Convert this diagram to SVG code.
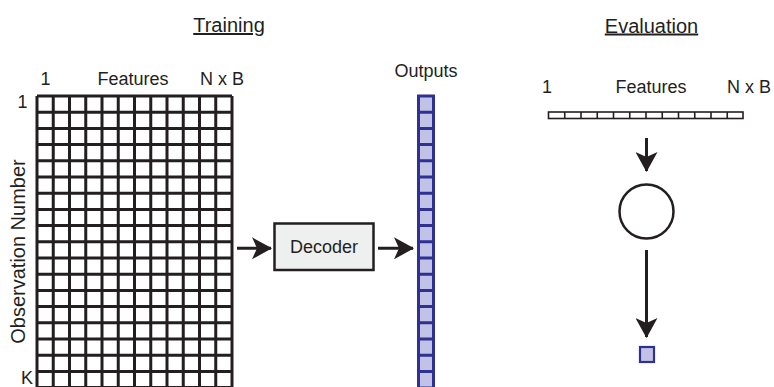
<svg xmlns="http://www.w3.org/2000/svg" width="774" height="387" viewBox="0 0 774 387">
<defs>
<style>
text{font-family:"Liberation Sans",Arial,sans-serif;fill:#231f20}
.lbl{font-size:18px}
.ttl{font-size:20px;text-decoration:underline}
.grid{stroke:#231f20;stroke-width:3;fill:none}
.out{stroke:#2e3192;stroke-width:3;fill:#c2c2e6}
.conn{stroke:#231f20;stroke-width:3;fill:none}
</style>
<marker id="ah" markerWidth="20" markerHeight="22" refX="19" refY="11" orient="auto" markerUnits="userSpaceOnUse">
<path d="M0,0 L20,11 L0,22 L5,11 Z" fill="#231f20"/>
</marker>
</defs>
<rect width="774" height="387" fill="#fff"/>
<text class="ttl" x="229" y="32" text-anchor="middle">Training</text>
<text class="ttl" x="651.5" y="32.5" text-anchor="middle">Evaluation</text>

<g id="training-matrix">
<text class="lbl" x="45.5" y="85" text-anchor="middle">1</text>
<text class="lbl" x="133" y="85" text-anchor="middle">Features</text>
<text class="lbl" x="222" y="85" text-anchor="middle">N x B</text>
<text class="lbl" x="22.5" y="108" text-anchor="middle">1</text>
<text class="lbl" x="27" y="384" text-anchor="middle">K</text>
<text transform="translate(25,251.5) rotate(-90)" text-anchor="middle" style="font-size:20px">Observation Number</text>
<rect x="37" y="96" width="195" height="292" fill="#fff"/>
<path class="grid" d="M37,96V388M53.25,96V388M69.5,96V388M85.75,96V388M102,96V388M118.25,96V388M134.5,96V388M150.75,96V388M167,96V388M183.25,96V388M199.5,96V388M215.75,96V388M232,96V388
M37,96H232M37,112.2H232M37,128.4H232M37,144.6H232M37,160.8H232M37,177H232M37,193.2H232M37,209.4H232M37,225.6H232M37,241.8H232M37,258H232M37,274.2H232M37,290.4H232M37,306.6H232M37,322.8H232M37,339H232M37,355.2H232M37,371.4H232M37,387.6H232"/>
</g>

<g id="decoder">
<rect x="274.5" y="223.5" width="99" height="46.5" fill="#eef0ef" stroke="#231f20" stroke-width="2.5"/>
<text x="324" y="253" text-anchor="middle" style="font-size:18px">Decoder</text>
</g>

<g id="outputs">
<text class="lbl" x="426" y="77" text-anchor="middle">Outputs</text>
<rect class="out" x="418.5" y="96" width="15" height="292"/>
<path class="out" fill="none" d="M418.5,112.2H433.5M418.5,128.4H433.5M418.5,144.6H433.5M418.5,160.8H433.5M418.5,177H433.5M418.5,193.2H433.5M418.5,209.4H433.5M418.5,225.6H433.5M418.5,241.8H433.5M418.5,258H433.5M418.5,274.2H433.5M418.5,290.4H433.5M418.5,306.6H433.5M418.5,322.8H433.5M418.5,339H433.5M418.5,355.2H433.5M418.5,371.4H433.5"/>
</g>

<g id="eval-features">
<text class="lbl" x="547" y="93" text-anchor="middle">1</text>
<text class="lbl" x="651" y="93" text-anchor="middle">Features</text>
<text class="lbl" x="749" y="93" text-anchor="middle">N x B</text>
<rect x="548.5" y="112" width="194.5" height="6.5" fill="#fff" stroke="#231f20" stroke-width="1.6"/>
<path stroke="#231f20" stroke-width="1.6" d="M564.75,112V118.5M581,112V118.5M597.25,112V118.5M613.5,112V118.5M629.75,112V118.5M646,112V118.5M662.25,112V118.5M678.5,112V118.5M694.75,112V118.5M711,112V118.5M727.25,112V118.5"/>
</g>

<g id="eval-node">
<circle cx="646.5" cy="211.5" r="27" fill="#fff" stroke="#231f20" stroke-width="2.5"/>
</g>

<g id="eval-output">
<rect x="640" y="347" width="14" height="15" fill="#c2c2e6" stroke="#2e3192" stroke-width="2.2"/>
</g>

<g id="connectors">
<line class="conn" x1="237" y1="248.3" x2="271" y2="248.3" marker-end="url(#ah)"/>
<line class="conn" x1="378" y1="248.3" x2="413" y2="248.3" marker-end="url(#ah)"/>
<line class="conn" x1="646.5" y1="138" x2="646.5" y2="171" marker-end="url(#ah)"/>
<line class="conn" x1="646.5" y1="250" x2="646.5" y2="337" marker-end="url(#ah)"/>
</g>
</svg>
